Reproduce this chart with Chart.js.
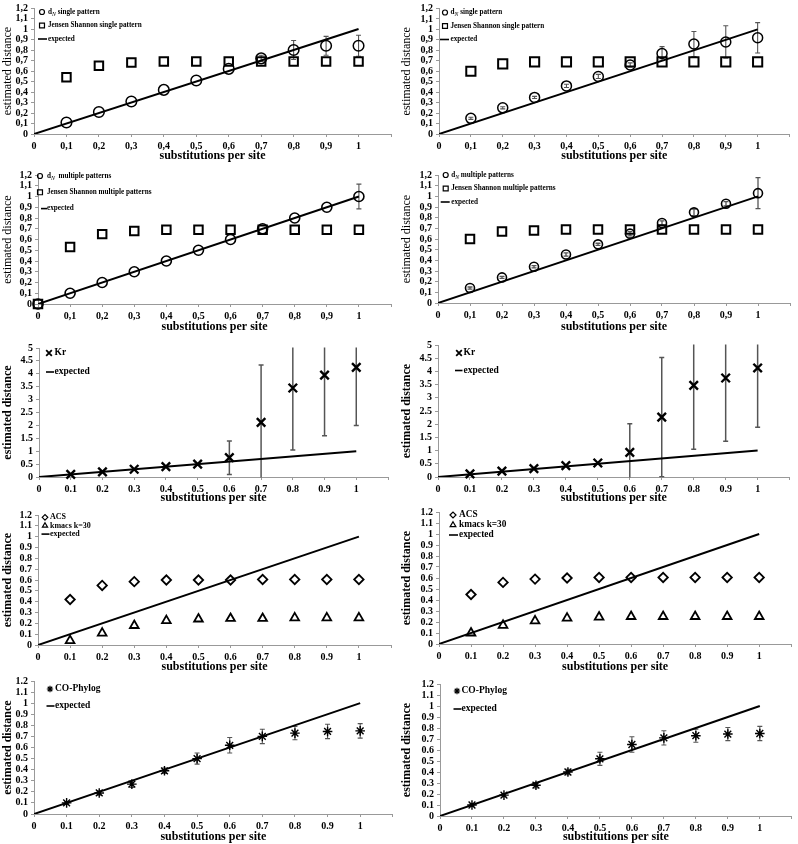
<!DOCTYPE html>
<html>
<head>
<meta charset="utf-8">
<script src="https://cdn.jsdelivr.net/npm/chart.js@4.4.1/dist/chart.umd.min.js"></script>
<style>
html,body{margin:0;padding:0;background:#fff;}
body{position:relative;width:798px;height:844px;overflow:hidden;}
canvas{position:absolute;}
</style>
</head>
<body>
<script>
// ---------- DATA ----------
const subs = [0.1, 0.2, 0.3, 0.4, 0.5, 0.6, 0.7, 0.8, 0.9, 1];
const subsZero = [0, 0.1, 0.2, 0.3, 0.4, 0.5, 0.6, 0.7, 0.8, 0.9, 1];
const expectedX = [0, 1];
const expectedY = [0, 1];

// row 1 left
const dnSingleA    = [0.11, 0.21, 0.31, 0.42, 0.51, 0.62, 0.72, 0.80, 0.84, 0.84];
const dnSingleAErr = [0, 0, 0, 0, 0, 0, 0.03, 0.09, 0.09, 0.10];
const jsSingleA    = [0.54, 0.65, 0.68, 0.69, 0.69, 0.69, 0.69, 0.69, 0.69, 0.69];
// row 1 right
const dnSingleB    = [0.15, 0.25, 0.35, 0.46, 0.55, 0.66, 0.77, 0.86, 0.88, 0.92];
const dnSingleBErr = [0.01, 0.01, 0.01, 0.015, 0.02, 0.02, 0.065, 0.12, 0.155, 0.145];
const jsSingleB    = [0.60, 0.67, 0.69, 0.69, 0.69, 0.69, 0.69, 0.69, 0.69, 0.69];
// row 2 left (starts at 0)
const dnMultiA     = [0, 0.10, 0.20, 0.30, 0.40, 0.50, 0.60, 0.70, 0.80, 0.90, 1.00];
const dnMultiAErr  = [0, 0, 0, 0, 0, 0, 0, 0, 0, 0, 0.115];
const jsMultiA     = [0, 0.53, 0.65, 0.68, 0.69, 0.69, 0.69, 0.69, 0.69, 0.69, 0.69];
// row 2 right
const dnMultiB     = [0.14, 0.24, 0.34, 0.455, 0.55, 0.65, 0.75, 0.85, 0.93, 1.03];
const dnMultiBErr  = [0.01, 0.01, 0.01, 0.015, 0.01, 0.02, 0.02, 0.03, 0.02, 0.145];
const jsMultiB     = [0.60, 0.67, 0.68, 0.69, 0.69, 0.69, 0.69, 0.69, 0.69, 0.69];
// row 3
const krA    = [0.10, 0.20, 0.30, 0.40, 0.50, 0.75, 2.12, 3.45, 3.95, 4.25];
const krAErr = [0, 0, 0, 0, 0, 0.65, 2.22, 2.40, 2.35, 2.25];
const krB    = [0.12, 0.22, 0.32, 0.43, 0.53, 0.93, 2.27, 3.47, 3.75, 4.13];
const krBErr = [0, 0, 0, 0, 0, 1.09, 2.26, 2.42, 2.40, 2.25];
// row 4
const acsA   = [0.42, 0.55, 0.585, 0.60, 0.60, 0.60, 0.605, 0.605, 0.605, 0.605];
const kmacsA = [0.04, 0.11, 0.18, 0.225, 0.24, 0.245, 0.245, 0.25, 0.25, 0.25];
const acsB   = [0.45, 0.56, 0.59, 0.60, 0.605, 0.605, 0.605, 0.605, 0.605, 0.605];
const kmacsB = [0.10, 0.17, 0.21, 0.235, 0.245, 0.25, 0.25, 0.25, 0.25, 0.25];
// row 5
const cophylogA    = [0.10, 0.19, 0.27, 0.39, 0.50, 0.62, 0.70, 0.73, 0.745, 0.75];
const cophylogAErr = [0.01, 0.02, 0.03, 0.025, 0.05, 0.07, 0.065, 0.06, 0.065, 0.065];
const cophylogB    = [0.10, 0.19, 0.28, 0.40, 0.52, 0.65, 0.71, 0.73, 0.745, 0.75];
const cophylogBErr = [0.01, 0.015, 0.025, 0.025, 0.06, 0.07, 0.065, 0.06, 0.06, 0.065];

// labels
const xTitle = 'substitutions per site';
const yTitle = 'estimated distance';

// ---------- HELPERS ----------
const SERIF = '"Liberation Serif", "Times New Roman", serif';
function pts(xs, ys) { return xs.map((x, i) => ({ x: x, y: ys[i] })); }

function expectedDs() {
  return { label: 'expected', data: pts(expectedX, expectedY), showLine: true, pointRadius: 0,
    borderColor: '#000', borderWidth: 2, legendLine: true, order: 0 };
}
function markerDs(label, xs, ys, style, r, bw, errs, legendR) {
  return { label: label, data: pts(xs, ys), showLine: false, pointStyle: style, pointRadius: r,
    pointBorderWidth: bw, borderColor: '#000', backgroundColor: 'rgba(0,0,0,0)',
    pointBackgroundColor: 'rgba(0,0,0,0)', clip: false, errors: errs || null, legendR: legendR, order: 1 };
}

function drawMarker(ctx, style, x, y, r) {
  ctx.beginPath();
  const s = Math.SQRT1_2 * r;
  switch (style) {
    case 'circle': ctx.arc(x, y, r, 0, Math.PI * 2); break;
    case 'rect': ctx.rect(x - s, y - s, 2 * s, 2 * s); break;
    case 'rectRot': ctx.moveTo(x - r, y); ctx.lineTo(x, y - r); ctx.lineTo(x + r, y); ctx.lineTo(x, y + r); ctx.closePath(); break;
    case 'triangle':
      ctx.moveTo(x, y - r);
      ctx.lineTo(x + r * Math.sin(2 * Math.PI / 3), y - r * Math.cos(2 * Math.PI / 3));
      ctx.lineTo(x + r * Math.sin(4 * Math.PI / 3), y - r * Math.cos(4 * Math.PI / 3));
      ctx.closePath(); break;
    case 'crossRot':
      ctx.moveTo(x - s, y - s); ctx.lineTo(x + s, y + s); ctx.moveTo(x - s, y + s); ctx.lineTo(x + s, y - s); break;
    case 'star':
      ctx.moveTo(x - s, y - s); ctx.lineTo(x + s, y + s); ctx.moveTo(x - s, y + s); ctx.lineTo(x + s, y - s);
      ctx.moveTo(x, y - r); ctx.lineTo(x, y + r); ctx.moveTo(x - r, y); ctx.lineTo(x + r, y); break;
  }
  ctx.stroke();
}

function drawLabel(ctx, text, x, y, size) {
  ctx.textBaseline = 'middle';
  ctx.textAlign = 'left';
  ctx.fillStyle = '#000';
  if (text.indexOf('d_N') === 0) {
    ctx.font = 'bold ' + size + 'px ' + SERIF;
    ctx.fillText('d', x, y);
    let w = ctx.measureText('d').width;
    ctx.font = 'italic ' + (size * 0.8) + 'px ' + SERIF;
    ctx.fillText('N', x + w, y + size * 0.3);
    w += ctx.measureText('N').width;
    ctx.font = 'bold ' + size + 'px ' + SERIF;
    ctx.fillText(text.slice(3), x + w, y);
  } else {
    ctx.font = 'bold ' + size + 'px ' + SERIF;
    ctx.fillText(text, x, y);
  }
}

const insideLegend = {
  id: 'insideLegend',
  afterDraw(chart, args, opts) {
    if (!opts || !opts.dx) return;
    const ctx = chart.ctx, a = chart.chartArea;
    ctx.save();
    chart.data.datasets.forEach((ds, i) => {
      const mx = a.left + opts.dx;
      const y = a.top + opts.dy + i * opts.spacing;
      ctx.strokeStyle = '#000';
      if (ds.legendLine) {
        ctx.lineWidth = 1.6;
        ctx.beginPath(); ctx.moveTo(mx - opts.lineL, y); ctx.lineTo(mx + opts.lineR, y); ctx.stroke();
      } else {
        ctx.lineWidth = opts.markerBW || 1.2;
        drawMarker(ctx, ds.pointStyle, mx, y, ds.legendR);
      }
      drawLabel(ctx, ds.label, mx + opts.gap, y, opts.font);
    });
    ctx.restore();
  }
};

const errorBars = {
  id: 'errorBars',
  beforeDatasetsDraw(chart, args, opts) {
    const ctx = chart.ctx, a = chart.chartArea, ys = chart.scales.y;
    ctx.save();
    ctx.beginPath(); ctx.rect(a.left, a.top - 0.5, a.right - a.left, a.bottom - a.top + 1); ctx.clip();
    chart.data.datasets.forEach((ds, di) => {
      if (!ds.errors) return;
      const meta = chart.getDatasetMeta(di);
      ctx.strokeStyle = (opts && opts.color) || '#555';
      ctx.lineWidth = (opts && opts.width) || 1.2;
      const cap = (opts && opts.cap) || 2.5;
      meta.data.forEach((el, i) => {
        const e = ds.errors[i];
        if (!e) return;
        const v = ds.data[i].y;
        const yt = ys.getPixelForValue(v + e), yb = ys.getPixelForValue(v - e);
        ctx.beginPath();
        ctx.moveTo(el.x, yt); ctx.lineTo(el.x, yb);
        ctx.moveTo(el.x - cap, yt); ctx.lineTo(el.x + cap, yt);
        ctx.moveTo(el.x - cap, yb); ctx.lineTo(el.x + cap, yb);
        ctx.stroke();
      });
    });
    ctx.restore();
  }
};

function fmt(value, comma) {
  const v = Math.round(value * 10) / 10;
  let s = String(v);
  return comma ? s.replace('.', ',') : s;
}

function makePanel(p) {
  const g = p.geo;
  const c = document.createElement('canvas');
  c.width = g.W; c.height = g.H;
  c.style.left = g.L + 'px'; c.style.top = g.T + 'px';
  c.style.width = g.W + 'px'; c.style.height = g.H + 'px';
  document.body.appendChild(c);
  const tickFont = { family: SERIF, size: 10, weight: 'bold' };
  const axisGrid = { display: true, drawOnChartArea: false, drawTicks: true, tickLength: 3, color: '#999' };
  new Chart(c, {
    type: 'scatter',
    data: { datasets: p.datasets },
    options: {
      responsive: false, animation: false, devicePixelRatio: 1, events: [],
      layout: { padding: { top: g.pt - g.T, right: g.L + g.W - g.pr, left: 0, bottom: 0 } },
      plugins: {
        legend: { display: false }, tooltip: { enabled: false },
        insideLegend: p.legend, errorBars: p.err || {}
      },
      scales: {
        x: {
          type: 'linear', min: 0, max: 1.1,
          ticks: { stepSize: 0.1, maxTicksLimit: 30, autoSkip: false, maxRotation: 0, minRotation: 0,
            font: tickFont, color: '#000', padding: 3,
            callback: (v) => (v > 1.05 ? '' : fmt(v, p.comma)) },
          grid: axisGrid, border: { display: true, color: '#999', width: 1 },
          title: { display: true, text: xTitle, color: '#000', font: { family: SERIF, size: 12, weight: 'bold' }, padding: { top: 0, bottom: 0 } },
          afterFit: (s) => { s.height = g.T + g.H - g.pb; s.paddingLeft = 0; s.paddingRight = 0; }
        },
        y: {
          type: 'linear', min: 0, max: p.yMax,
          ticks: { stepSize: p.yStep, maxTicksLimit: 30, autoSkip: false, font: tickFont, color: '#000', padding: 3,
            callback: (v) => fmt(v, p.comma) },
          grid: axisGrid, border: { display: true, color: '#999', width: 1 },
          title: { display: true, text: yTitle, color: '#000', font: { family: SERIF, size: 12, weight: p.yBold ? 'bold' : 'normal' }, padding: { top: 1, bottom: 0 } },
          afterFit: (s) => { s.width = g.pl - g.L; s.paddingTop = 0; s.paddingBottom = 0; }
        }
      }
    },
    plugins: [errorBars, insideLegend]
  });
}

const panels = [
  { geo: { L: 0, T: 0, W: 399, H: 163, pl: 34, pt: 2, pr: 394, pb: 134 }, yMax: 1.2, yStep: 0.1, comma: true, yBold: false,
    datasets: [
      markerDs('d_N single pattern', subs, dnSingleA, 'circle', 5.3, 1.5, dnSingleAErr, 2.5),
      markerDs('Jensen Shannon single pattern', subs, jsSingleA, 'rect', 6, 2, null, 3.5),
      expectedDs()],
    legend: { dx: 8, dy: 4, spacing: 13.5, font: 7.2, gap: 6, lineL: 4, lineR: 5 },
    err: { color: '#555', width: 1.1, cap: 2.5 } },
  { geo: { L: 399, T: 0, W: 399, H: 163, pl: 439, pt: 2, pr: 796, pb: 134 }, yMax: 1.2, yStep: 0.1, comma: true, yBold: false,
    datasets: [
      markerDs('d_N single pattern', subs, dnSingleB, 'circle', 5, 1.5, dnSingleBErr, 2.5),
      markerDs('Jensen Shannon single pattern', subs, jsSingleB, 'rect', 6.5, 2, null, 3.5),
      expectedDs()],
    legend: { dx: 6, dy: 4, spacing: 13.5, font: 7.2, gap: 5.5, lineL: 5, lineR: 4 },
    err: { color: '#555', width: 1.1, cap: 2.5 } },
  { geo: { L: 0, T: 160, W: 399, H: 174, pl: 38, pt: 175, pr: 393, pb: 304 }, yMax: 1.2, yStep: 0.1, comma: true, yBold: false,
    datasets: [
      markerDs('d_N  multiple patterns', subsZero, dnMultiA, 'circle', 5, 1.6, dnMultiAErr, 2.5),
      markerDs('Jensen Shannon multiple patterns', subsZero, jsMultiA, 'rect', 6, 2, null, 3.5),
      expectedDs()],
    legend: { dx: 2, dy: 1, spacing: 16.3, font: 7.2, gap: 7, lineL: -1, lineR: 7 },
    err: { color: '#555', width: 1.1, cap: 2.5 } },
  { geo: { L: 399, T: 160, W: 399, H: 174, pl: 438, pt: 175, pr: 797, pb: 303 }, yMax: 1.2, yStep: 0.1, comma: true, yBold: false,
    datasets: [
      markerDs('d_N multiple patterns', subs, dnMultiB, 'circle', 4.5, 1.6, dnMultiBErr, 2.5),
      markerDs('Jensen Shannon multiple patterns', subs, jsMultiB, 'rect', 6, 2, null, 3.5),
      expectedDs()],
    legend: { dx: 7.7, dy: 0, spacing: 13.5, font: 7.2, gap: 5.5, lineL: 5, lineR: 4 },
    err: { color: '#555', width: 1.3, cap: 2.5 } },
  { geo: { L: 0, T: 335, W: 399, H: 170, pl: 39, pt: 348, pr: 388, pb: 477 }, yMax: 5, yStep: 0.5, comma: false, yBold: true,
    datasets: [
      markerDs('Kr', subs, krA, 'crossRot', 6, 2.4, krAErr, 4),
      expectedDs()],
    legend: { dx: 10, dy: 5, spacing: 19, font: 9.5, gap: 5.5, lineL: 3, lineR: 5, markerBW: 1.8 },
    err: { color: '#555', width: 1.5, cap: 2.5 } },
  { geo: { L: 399, T: 335, W: 399, H: 170, pl: 438, pt: 345, pr: 797, pb: 477 }, yMax: 5, yStep: 0.5, comma: false, yBold: true,
    datasets: [
      markerDs('Kr', subs, krB, 'crossRot', 6, 2.4, krBErr, 4),
      expectedDs()],
    legend: { dx: 21, dy: 8, spacing: 17.5, font: 9.5, gap: 4.5, lineL: 4, lineR: 3.5, markerBW: 1.8 },
    err: { color: '#555', width: 1.5, cap: 2.5 } },
  { geo: { L: 0, T: 505, W: 399, H: 169, pl: 38, pt: 515, pr: 391, pb: 645 }, yMax: 1.2, yStep: 0.1, comma: false, yBold: true,
    datasets: [
      markerDs('ACS', subs, acsA, 'rectRot', 4.7, 1.8, null, 2.8),
      markerDs('kmacs k=30', subs, kmacsA, 'triangle', 5, 1.8, null, 3),
      expectedDs()],
    legend: { dx: 7, dy: 2.3, spacing: 8.4, font: 8, gap: 5, lineL: 3.5, lineR: 4.5 } },
  { geo: { L: 399, T: 505, W: 399, H: 169, pl: 439, pt: 512, pr: 797, pb: 644 }, yMax: 1.2, yStep: 0.1, comma: false, yBold: true,
    datasets: [
      markerDs('ACS', subs, acsB, 'rectRot', 4.7, 1.8, null, 3),
      markerDs('kmacs k=30', subs, kmacsB, 'triangle', 5, 1.8, null, 3.3),
      expectedDs()],
    legend: { dx: 14, dy: 3, spacing: 10, font: 9.3, gap: 6, lineL: 4, lineR: 5 } },
  { geo: { L: 0, T: 674, W: 399, H: 170, pl: 34, pt: 681, pr: 394, pb: 814 }, yMax: 1.2, yStep: 0.1, comma: false, yBold: true,
    datasets: [
      markerDs('CO-Phylog', subs, cophylogA, 'star', 4.8, 1.4, cophylogAErr, 3.2),
      expectedDs()],
    legend: { dx: 16, dy: 8, spacing: 17, font: 9.5, gap: 5, lineL: 3.5, lineR: 4.5 },
    err: { color: '#555', width: 1.1, cap: 2.5 } },
  { geo: { L: 399, T: 674, W: 399, H: 170, pl: 440, pt: 684, pr: 797, pb: 816 }, yMax: 1.2, yStep: 0.1, comma: false, yBold: true,
    datasets: [
      markerDs('CO-Phylog', subs, cophylogB, 'star', 4.8, 1.4, cophylogBErr, 3.2),
      expectedDs()],
    legend: { dx: 17, dy: 7, spacing: 18, font: 9.5, gap: 4.5, lineL: 3.5, lineR: 4.5 },
    err: { color: '#555', width: 1.1, cap: 2.5 } }
];

panels.forEach(makePanel);
</script>
</body>
</html>
